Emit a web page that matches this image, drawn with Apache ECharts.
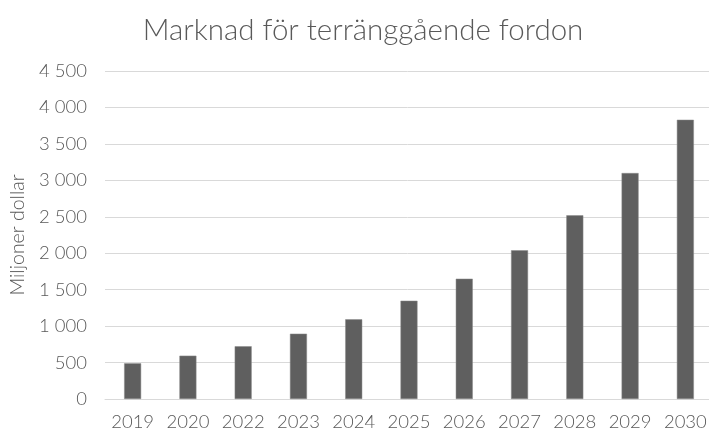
<!DOCTYPE html>
<html>
<head>
<meta charset="utf-8">
<script src="https://cdn.jsdelivr.net/npm/echarts@6/dist/echarts.min.js"></script>
<style>html,body{margin:0;padding:0;background:#fff}#c{width:709px;height:430px}</style>
</head>
<body>
<div id="c"></div>
<script>
const categories = ['2019','2020','2022','2023','2024','2025','2026','2027','2028','2029','2030'];
const values = [490, 594, 723, 896, 1093, 1348, 1650, 2040, 2520, 3100, 3831];
const titleText = 'Marknad för terränggående fordon';
const yAxisName = 'Miljoner dollar';

const chart = echarts.init(document.getElementById('c'));
const txt = '#595959';
const font = 'Lato';
chart.setOption({
  animation: false,
  title: {
    text: titleText, left: 358, top: 10, textAlign: 'center',
    textStyle: { fontFamily: font, fontWeight: 300, fontSize: 29.5, color: txt }
  },
  grid: { left: 105, top: 71, width: 608, height: 328, containLabel: false, outerBoundsMode: 'none' },
  xAxis: {
    type: 'category', data: categories,
    axisLine: { show: true, lineStyle: { color: '#d9d9d9', width: 1 } },
    axisTick: { show: false },
    axisLabel: { interval: 0, color: txt, fontFamily: font, fontWeight: 300, fontSize: 18.5, margin: 14, hideOverlap: false }
  },
  yAxis: {
    type: 'value', min: 0, max: 4500, interval: 500,
    name: yAxisName, nameLocation: 'middle', nameGap: 76, nameRotate: 90,
    nameTextStyle: { color: txt, fontFamily: font, fontWeight: 300, fontSize: 19.5 },
    axisLine: { show: false }, axisTick: { show: false },
    splitLine: { lineStyle: { color: '#d9d9d9', width: 1 } },
    axisLabel: {
      color: txt, fontFamily: font, fontWeight: 300, fontSize: 18.5, margin: 18,
      formatter: v => String(v).replace(/\B(?=(\d{3})+(?!\d))/g, ' ')
    }
  },
  series: [{
    type: 'bar', data: values, barWidth: 17,
    itemStyle: { color: '#5f5f5f', borderColor: '#8a8a8a', borderWidth: 0.5 }
  }]
});
</script>
</body>
</html>
